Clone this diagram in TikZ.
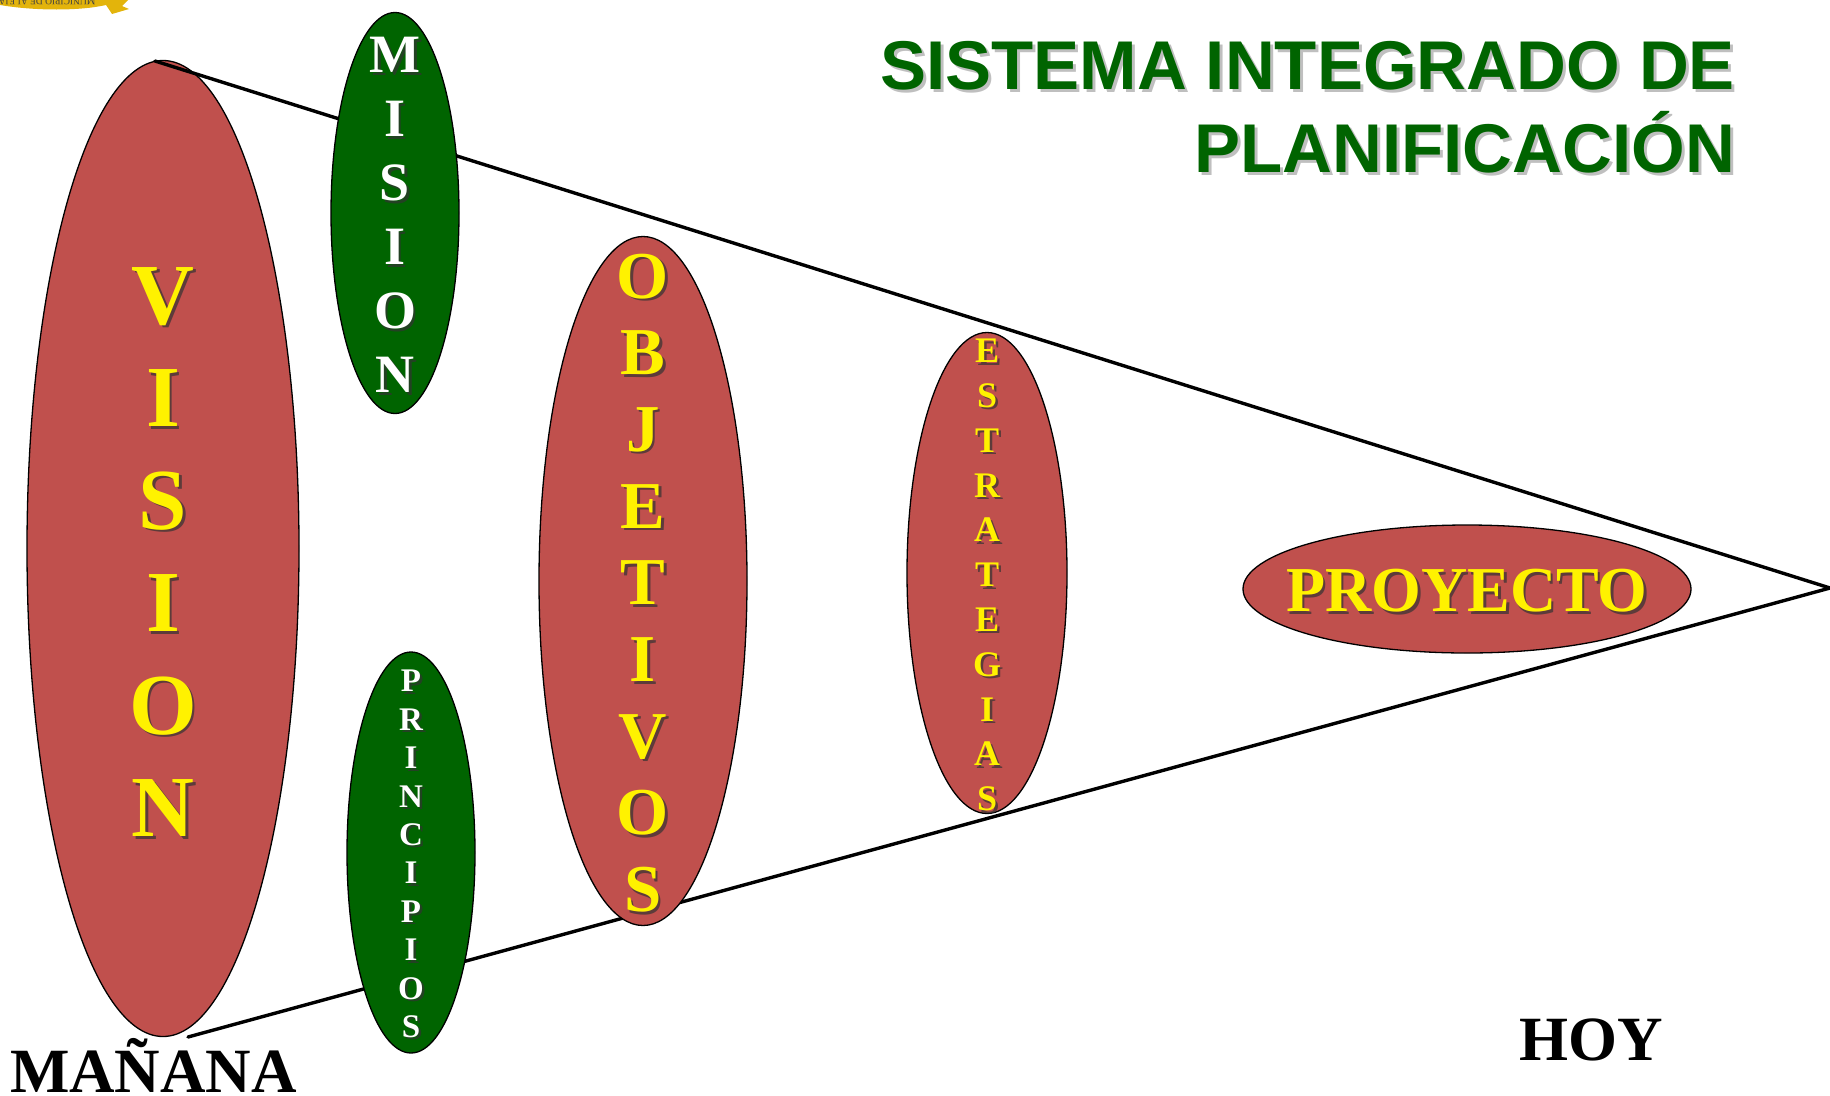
\documentclass[tikz,border=0pt]{standalone}
\usepackage{fontspec}
\setmainfont{Liberation Serif}
\newfontfamily\titlefont{Liberation Sans}
\usetikzlibrary{shapes.geometric}
\definecolor{redfill}{HTML}{C0504D}
\definecolor{greenfill}{HTML}{006400}
\definecolor{gold}{HTML}{E3B40B}
% text with a soft drop shadow: name, position, size, line pitch, colour, content
\newcommand{\shadowed}[6]{%
  \node[stack,text=black!80,opacity=.7,font=\fontsize{#3}{#4}\selectfont\bfseries] at ([shift={(2.5pt,-2.5pt)}]#2) {#6};
  \node[stack,text=#5,font=\fontsize{#3}{#4}\selectfont\bfseries] (#1) at (#2) {#6};}
\tikzset{
  x=1pt,y=-1pt,
  blob/.style={ellipse,draw=black,line width=1.3pt,inner sep=0pt,outer sep=0pt},
  redblob/.style={blob,fill=redfill},
  greenblob/.style={blob,fill=greenfill},
  stack/.style={inner sep=0pt,outer sep=0pt,align=center},
  ray/.style={line width=3.4pt,line cap=round,line join=miter},
  titletext/.style={inner sep=0pt,outer sep=0pt,align=right,anchor=north east,font=\titlefont\fontsize{69}{83}\selectfont\bfseries},
}
\begin{document}
\begin{tikzpicture}
\useasboundingbox (0,0) rectangle (1830,1095);
% logo fragment
\fill[gold] (0,0) -- (128,0) -- (122,6) -- (129,9) -- (112,14) -- (106,5) .. controls (80,11) and (35,11) .. (0,5) -- cycle;
\node[inner sep=0pt,rotate=180,text=black!75,font=\fontsize{9.5}{9.5}\selectfont] (logotext) at (32,2) {MUNICIPIO DE ALEJANDRIA};
% vision and rays
\node[redblob,minimum width=272pt,minimum height=976pt] (vision) at (163,548.5) {};
\coordinate (apex) at (1830,588);
\coordinate (topend) at (155,61);
\coordinate (botend) at (188,1037);
\draw[ray] (topend) -- (apex) -- (botend);
% other ellipses
\node[greenblob,minimum width=128pt,minimum height=401pt] (mision) at (395,213) {};
\node[greenblob,minimum width=128pt,minimum height=401pt] (principios) at (411,852.5) {};
\node[redblob,minimum width=208pt,minimum height=689pt] (objetivos) at (643,581) {};
\node[redblob,minimum width=160pt,minimum height=481pt] (estrategias) at (987,573) {};
\node[redblob,minimum width=448pt,minimum height=128pt] (proyecto) at (1467,589) {};
% stacked words
\shadowed{tvision}{163,552}{87}{102.5}{yellow}{V\\I\\S\\I\\O\\N}
\shadowed{tobjetivos}{643,583}{67}{76.7}{yellow}{O\\B\\J\\E\\T\\I\\V\\O\\S}
\shadowed{testrategias}{987,575}{36}{44.8}{yellow}{E\\S\\T\\R\\A\\T\\E\\G\\I\\A\\S}
\shadowed{tproyecto}{1467,591}{64}{64}{yellow}{PROYECTO}
\shadowed{tmision}{395,215}{54}{64}{white}{M\\I\\S\\I\\O\\N}
\shadowed{tprincipios}{411,854}{33}{38.4}{white}{P\\R\\I\\N\\C\\I\\P\\I\\O\\S}
% title
\node[titletext,text=black!50,opacity=.5] at (1738,44) {SISTEMA INTEGRADO DE\\PLANIFICACIÓN};
\node[titletext,text=greenfill] (title) at (1735,41) {SISTEMA INTEGRADO DE\\PLANIFICACIÓN};
\node[inner sep=0pt,outer sep=0pt,anchor=base west,font=\fontsize{63}{63}\selectfont\bfseries] (manana) at (10,1092) {MAÑANA};
\node[inner sep=0pt,outer sep=0pt,anchor=base west,font=\fontsize{63}{63}\selectfont\bfseries] (hoy) at (1519,1060) {HOY};
\end{tikzpicture}
\end{document}
